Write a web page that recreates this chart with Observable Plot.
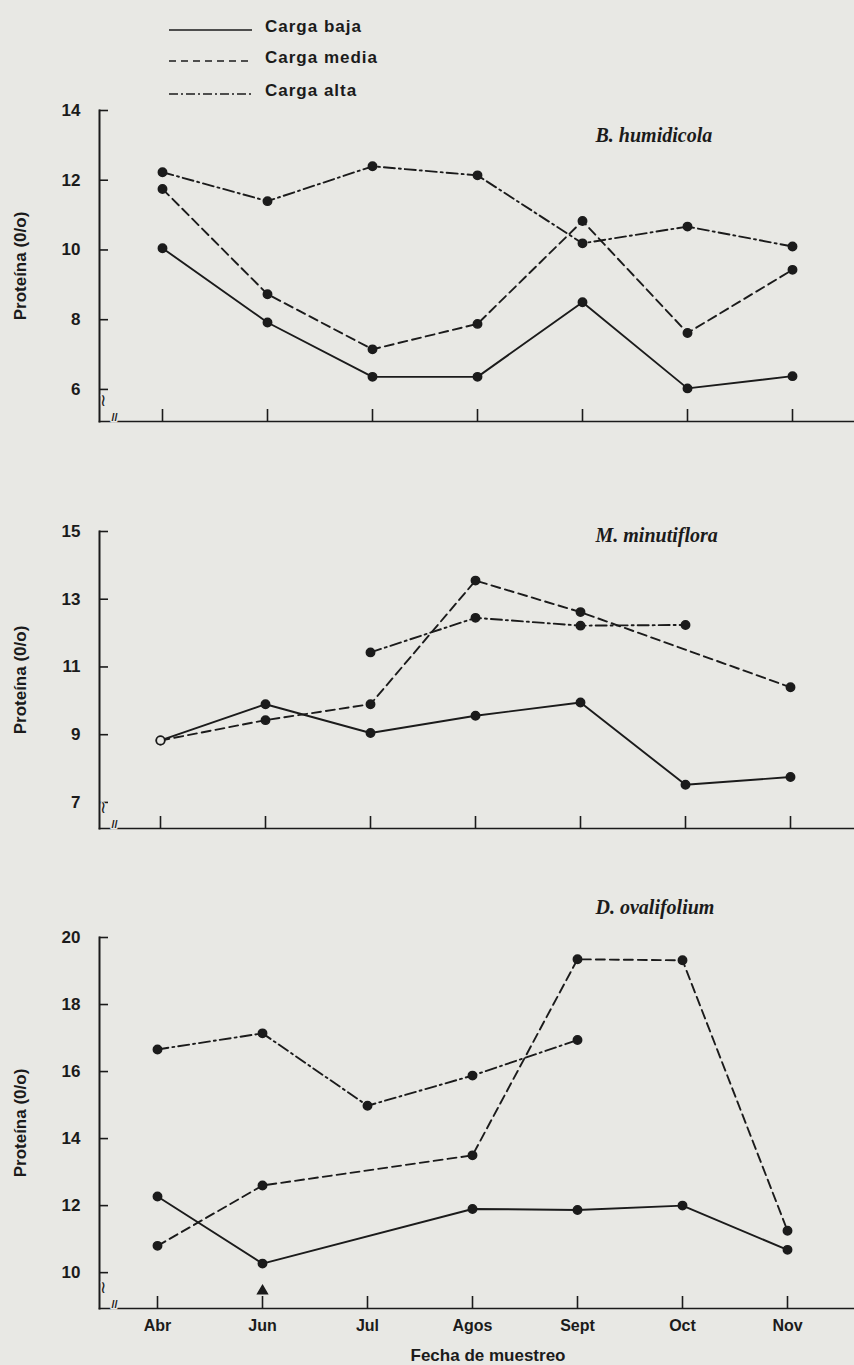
<!DOCTYPE html>
<html>
<head>
<meta charset="utf-8">
<script src="https://cdn.jsdelivr.net/npm/d3@7"></script>
<script src="https://cdn.jsdelivr.net/npm/@observablehq/plot@0.6"></script>
<style>
  html, body { margin: 0; padding: 0; background: #e8e8e4; }
  #root { position: relative; width: 854px; height: 1365px; overflow: hidden; background: #e8e8e4; }
  #root > svg, #root > figure { position: absolute; left: 0; margin: 0; }
</style>
</head>
<body>
<div id="root"></div>
<script>
// ---------- data ----------
const meses = ["Abr", "Jun", "Jul", "Agos", "Sept", "Oct", "Nov"];
const series = ["Carga baja", "Carga media", "Carga alta"];

// B. humidicola
const humBaja  = [10.05, 7.92, 6.36, 6.36, 8.5, 6.03, 6.38];
const humMedia = [11.75, 8.73, 7.15, 7.88, 10.83, 7.62, 9.43];
const humAlta  = [12.23, 11.4, 12.4, 12.14, 10.19, 10.67, 10.1];
const humTicks = [6, 8, 10, 12, 14];

// M. minutiflora
const minBaja  = [8.83, 9.9, 9.05, 9.56, 9.95, 7.52, 7.75];
const minMedia = [8.83, 9.43, 9.9, 13.55, 12.62, null, 10.4];
const minAlta  = [null, null, 11.43, 12.45, 12.22, 12.24, null];
const minTicks = [7, 9, 11, 13, 15];

// D. ovalifolium
const ovaBaja  = [12.27, 10.27, null, 11.9, 11.87, 12.0, 10.68];
const ovaMedia = [10.8, 12.6, null, 13.5, 19.35, 19.32, 11.25];
const ovaAlta  = [16.66, 17.14, 14.98, 15.88, 16.94, null, null];
const ovaTicks = [10, 12, 14, 16, 18, 20];
const ovaMarca = [{mes: "Jun", valor: 9.45}];

const tituloY = "Proteína (0/o)";
const tituloX = "Fecha de muestreo";

// ---------- styling ----------
const ink = "#1b1b1b";
const bg = "#e8e8e4";
const dashes = {"Carga baja": null, "Carga media": "9,5", "Carga alta": "11,4,2,4"};
const sans = "'Liberation Sans', Arial, sans-serif";
const serif = "'Liberation Serif', 'Times New Roman', serif";
const root = document.getElementById("root");

function tabla(baja, media, alta) {
  const rows = [];
  [baja, media, alta].forEach((vals, k) => {
    vals.forEach((v, i) => { if (v != null) rows.push({mes: meses[i], valor: v, serie: series[k]}); });
  });
  return rows;
}

// ---------- legend ----------
(function legend() {
  const svg = d3.create("svg").attr("width", 854).attr("height", 100)
    .style("top", "0px").style("font-family", sans);
  const ys = [26, 57, 90];
  series.forEach((s, i) => {
    svg.append("line").attr("x1", 169).attr("x2", 252).attr("y1", ys[i] + 4).attr("y2", ys[i] + 4)
      .attr("stroke", ink).attr("stroke-width", 1.6)
      .attr("stroke-dasharray", dashes[s] === null ? null : (i === 1 ? "7,5" : "9,3,2,3"));
    svg.append("text").attr("x", 265).attr("y", ys[i]).attr("dy", "0.35em")
      .attr("font-size", 17).attr("font-weight", "bold").attr("letter-spacing", 1)
      .attr("fill", ink).text(s);
  });
  root.appendChild(svg.node());
})();

// ---------- panels ----------
function panel({titulo, baja, media, alta, ticks, yDomain, top, height, marginTop, marginBottom,
                xRange, etiquetas, abiertos = [], marca = null, tituloDy}) {
  const rows = tabla(baja, media, alta);
  const marginLeft = 99, width = 854;
  const frameH = height - marginTop - marginBottom;
  const marks = [
    Plot.frame({anchor: "left", stroke: ink, strokeWidth: 2}),
    Plot.frame({anchor: "bottom", stroke: ink, strokeWidth: 1.6}),
    // y ticks pointing inward (right)
    Plot.tickY(ticks, {y: d => d, insetRight: width - marginLeft - 9, stroke: ink, strokeWidth: 1.6}),
    Plot.axisY(ticks, {tickSize: 0, tickPadding: 19, fontSize: 17, fontWeight: "bold",
      fontFamily: sans, letterSpacing: 0.8, fill: ink, label: null}),
    // x ticks pointing upward
    Plot.tickX(meses, {x: d => d, insetTop: frameH - 12, stroke: ink, strokeWidth: 1.6}),
    // axis breaks
    Plot.text(["//"], {frameAnchor: "bottom-left", dx: 12, dy: -1, fontSize: 11, fontWeight: "bold",
      fill: ink, stroke: bg, strokeWidth: 3, paintOrder: "stroke"}),
    Plot.text(["≀"], {frameAnchor: "bottom-left", dx: 0, dy: -16, fontSize: 17,
      fill: ink, stroke: bg, strokeWidth: 2, paintOrder: "stroke"}),
    ...series.map(s => Plot.line(rows.filter(d => d.serie === s), {
      x: "mes", y: "valor", stroke: ink, strokeWidth: 1.9, strokeDasharray: dashes[s]
    })),
    Plot.dot(rows.filter(d => !abiertos.includes(d.mes)), {x: "mes", y: "valor", r: 4.2, fill: ink, stroke: ink}),
    Plot.dot(rows.filter(d => abiertos.includes(d.mes)), {x: "mes", y: "valor", r: 4.2, fill: bg, stroke: ink, strokeWidth: 1.6}),
    Plot.text([titulo], {frameAnchor: "top-left", dx: 496, dy: tituloDy, textAnchor: "start", lineAnchor: "middle",
      fontSize: 20, fontWeight: "bold", fontStyle: "italic", fontFamily: serif, letterSpacing: 1.8, fill: ink}),
    Plot.text([tituloY], {frameAnchor: "left", dx: -79, rotate: -90, textAnchor: "middle", lineAnchor: "middle",
      fontSize: 17, fontWeight: "bold", fontFamily: sans, letterSpacing: 3, fill: ink})
  ];
  if (etiquetas) {
    marks.push(Plot.axisX(meses, {tickSize: 0, tickPadding: 11, fontSize: 16, fontWeight: "bold",
      fontFamily: sans, letterSpacing: 1.2, fill: ink, label: null}));
    marks.push(Plot.text([tituloX], {frameAnchor: "bottom", dx: 11, dy: 47, lineAnchor: "middle", textAnchor: "middle",
      fontSize: 17, fontWeight: "bold", fontFamily: sans, letterSpacing: 2.5, fill: ink}));
  }
  if (marca) {
    marks.push(Plot.dot(marca, {x: "mes", y: "valor", symbol: "triangle", r: 3.6, fill: ink, stroke: ink}));
  }
  const chart = Plot.plot({
    width, height, marginTop, marginBottom, marginLeft, marginRight: 0,
    style: {background: "transparent", fontFamily: sans, color: ink, overflow: "visible"},
    x: {type: "point", domain: meses, range: xRange, padding: 0, label: null, axis: null},
    y: {domain: yDomain, label: null, axis: null},
    marks
  });
  chart.style.top = top + "px";
  chart.style.position = "absolute";
  root.appendChild(chart);
}

panel({titulo: "B. humidicola", baja: humBaja, media: humMedia, alta: humAlta, ticks: humTicks,
  yDomain: [5.08, 14], top: 95, height: 345, marginTop: 15, marginBottom: 19,
  xRange: [161, 792], etiquetas: false, tituloDy: 25});

panel({titulo: "M. minutiflora", baja: minBaja, media: minMedia, alta: minAlta, ticks: minTicks,
  yDomain: [6.23, 15], top: 500, height: 350, marginTop: 31, marginBottom: 22,
  xRange: [159, 790], etiquetas: false, abiertos: ["Abr"], tituloDy: 4});

panel({titulo: "D. ovalifolium", baja: ovaBaja, media: ovaMedia, alta: ovaAlta, ticks: ovaTicks,
  yDomain: [8.93, 20], top: 880, height: 485, marginTop: 57, marginBottom: 57,
  xRange: [155, 788], etiquetas: true, marca: ovaMarca, tituloDy: -30});
</script>
</body>
</html>
